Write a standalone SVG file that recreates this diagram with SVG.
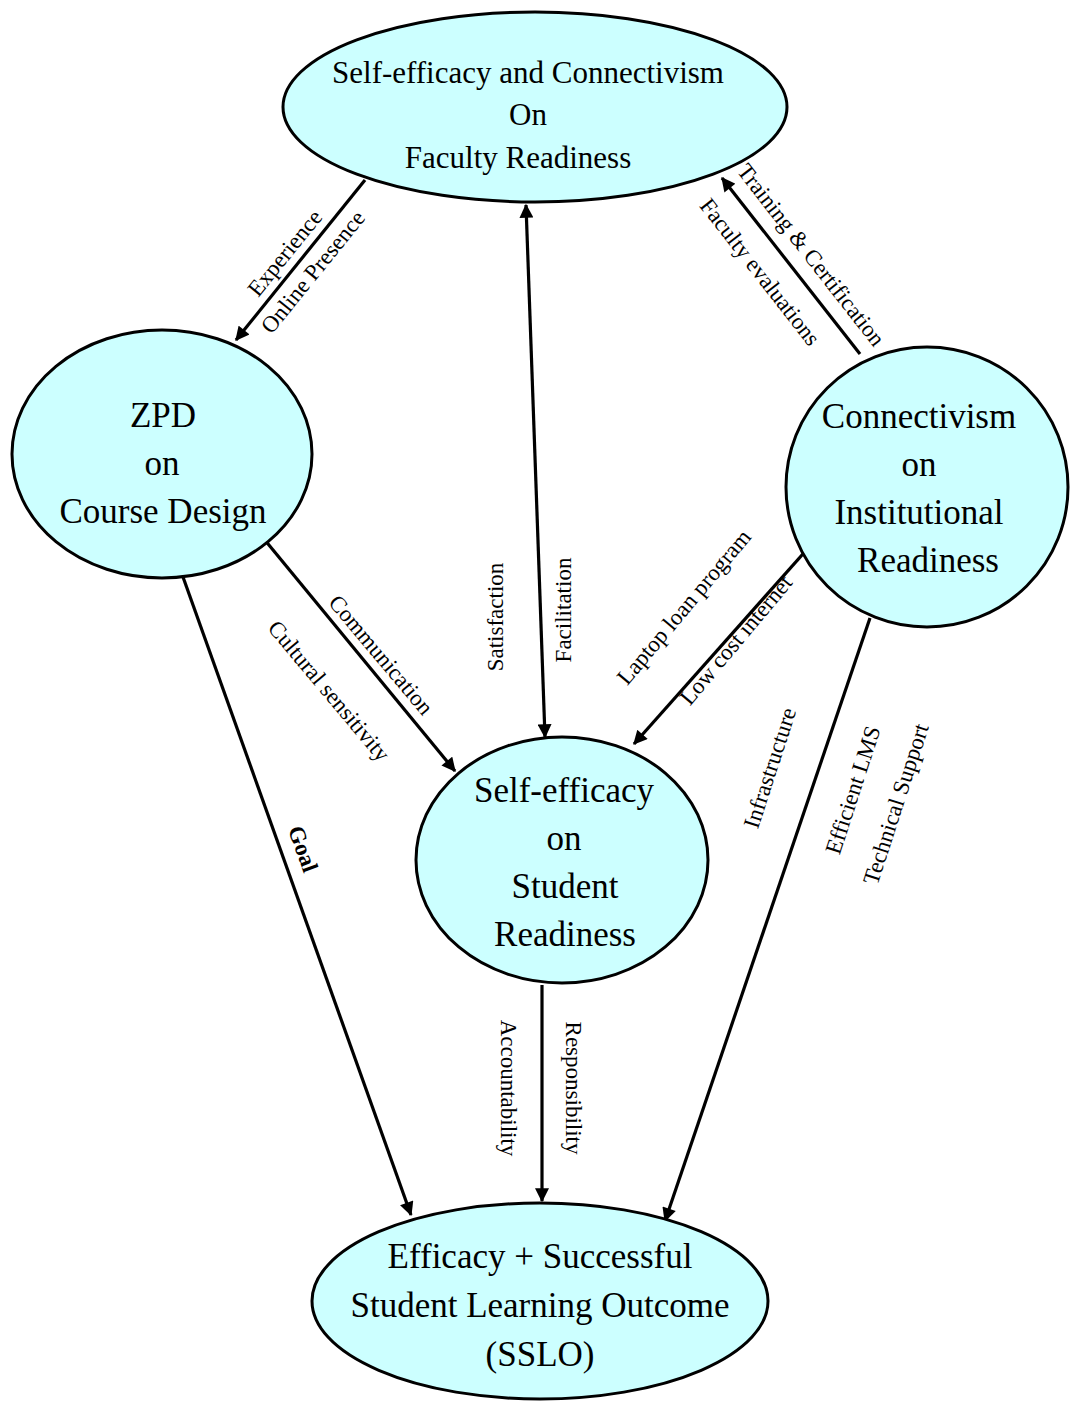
<svg xmlns="http://www.w3.org/2000/svg" width="1070" height="1401" viewBox="0 0 1070 1401">
  <style>
    .node { fill: #ccffff; stroke: #000; stroke-width: 3; }
    .nt { font-family: "Liberation Serif", "Times New Roman", serif; font-size: 35px; fill: #000; text-anchor: middle; }
    .nt.small { font-size: 31px; }
    .edge { stroke: #000; stroke-width: 3.2; fill: none; }
    .lbl { font-family: "Liberation Serif", "Times New Roman", serif; font-size: 23px; fill: #000; text-anchor: middle; dominant-baseline: central; }
    .bold { font-weight: bold; }
  </style>
  <defs>
    <marker id="arrow" viewBox="0 0 12 12" refX="11" refY="6" markerWidth="15" markerHeight="14" markerUnits="userSpaceOnUse" orient="auto-start-reverse">
      <path d="M0,0 L12,6 L0,12 Z" fill="#000"/>
    </marker>
  </defs>
  <rect width="1070" height="1401" fill="#fff"/>

  <!-- connectors -->
  <g id="connectors">
    <line class="edge" x1="365" y1="180" x2="236" y2="340" marker-end="url(#arrow)"/>
    <line class="edge" x1="526" y1="205" x2="545" y2="737" marker-start="url(#arrow)" marker-end="url(#arrow)"/>
    <line class="edge" x1="860" y1="354" x2="722" y2="178" marker-end="url(#arrow)"/>
    <line class="edge" x1="264" y1="539" x2="455" y2="771" marker-end="url(#arrow)"/>
    <line class="edge" x1="810" y1="546" x2="634" y2="744" marker-end="url(#arrow)"/>
    <line class="edge" x1="178" y1="563" x2="411" y2="1215" marker-end="url(#arrow)"/>
    <line class="edge" x1="542" y1="985" x2="542" y2="1201" marker-end="url(#arrow)"/>
    <line class="edge" x1="870" y1="618" x2="665" y2="1221" marker-end="url(#arrow)"/>

    <text class="lbl" transform="translate(285,253) rotate(-51)">Experience</text>
    <text class="lbl" transform="translate(313,272) rotate(-51)">Online Presence</text>
    <text class="lbl" transform="translate(811,255) rotate(52)">Training &amp; Certification</text>
    <text class="lbl" transform="translate(760,272) rotate(52)">Faculty evaluations</text>
    <text class="lbl" transform="translate(495,617) rotate(-90)">Satisfaction</text>
    <text class="lbl" transform="translate(563,610) rotate(-90)">Facilitation</text>
    <text class="lbl" transform="translate(381,655) rotate(50)">Communication</text>
    <text class="lbl" transform="translate(329,691) rotate(50)">Cultural sensitivity</text>
    <text class="lbl" transform="translate(684,607) rotate(-50)">Laptop loan program</text>
    <text class="lbl" transform="translate(736,640) rotate(-50)">Low cost internet</text>
    <text class="lbl bold" transform="translate(303,849) rotate(70)">Goal</text>
    <text class="lbl" transform="translate(508,1088) rotate(90)">Accountability</text>
    <text class="lbl" transform="translate(573,1088) rotate(90)">Responsibility</text>
    <text class="lbl" transform="translate(770,768) rotate(-72)">Infrastructure</text>
    <text class="lbl" transform="translate(853,790) rotate(-72)">Efficient LMS</text>
    <text class="lbl" transform="translate(896,804) rotate(-72)">Technical Support</text>
  </g>

  <!-- nodes -->
  <g id="faculty">
    <ellipse class="node" cx="535" cy="107" rx="252" ry="95"/>
    <text class="nt small" x="528" y="83">Self-efficacy and Connectivism</text>
    <text class="nt small" x="528" y="125">On</text>
    <text class="nt small" x="518" y="168">Faculty Readiness</text>
  </g>
  <g id="zpd">
    <ellipse class="node" cx="162" cy="454" rx="150" ry="124"/>
    <text class="nt" x="163" y="427">ZPD</text>
    <text class="nt" x="162" y="475">on</text>
    <text class="nt" x="163" y="523">Course Design</text>
  </g>
  <g id="institutional">
    <ellipse class="node" cx="927" cy="487" rx="141" ry="140"/>
    <text class="nt" x="919" y="428">Connectivism</text>
    <text class="nt" x="919" y="476">on</text>
    <text class="nt" x="919" y="524">Institutional</text>
    <text class="nt" x="928" y="572">Readiness</text>
  </g>
  <g id="student">
    <ellipse class="node" cx="562" cy="860" rx="146" ry="123"/>
    <text class="nt" x="564" y="802">Self-efficacy</text>
    <text class="nt" x="564" y="850">on</text>
    <text class="nt" x="565" y="898">Student</text>
    <text class="nt" x="565" y="946">Readiness</text>
  </g>
  <g id="outcome">
    <ellipse class="node" cx="540" cy="1301" rx="228" ry="98"/>
    <text class="nt" x="540" y="1268">Efficacy + Successful</text>
    <text class="nt" x="540" y="1317">Student Learning Outcome</text>
    <text class="nt" x="540" y="1366">(SSLO)</text>
  </g>
</svg>
